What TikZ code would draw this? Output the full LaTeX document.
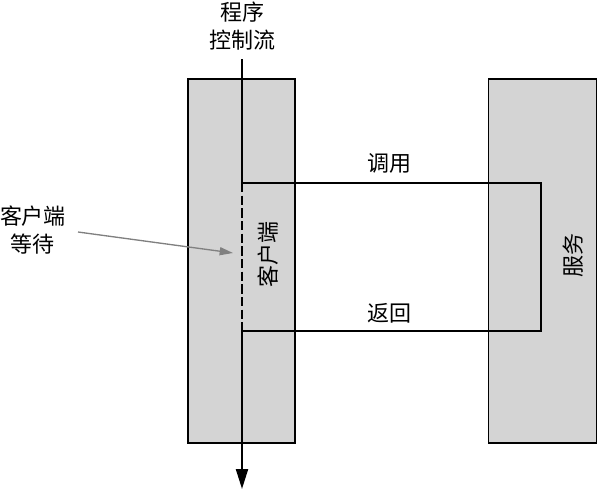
\documentclass[tikz,border=0pt]{standalone}
\usepackage{fontspec}
\setmainfont{Noto Sans CJK SC}
\usetikzlibrary{arrows.meta}
\definecolor{barfill}{RGB}{212,212,212}
\definecolor{pointer}{RGB}{128,128,128}
\begin{document}
\begin{tikzpicture}[x=0.75pt,y=-0.75pt,
  bar/.style={draw=black,line width=1.1pt,fill=barfill,inner sep=0pt,minimum width=#1*0.75pt,minimum height=364*0.75pt},
  lbl/.style={font=\fontsize{16.5}{20.5}\selectfont,inner sep=0pt,align=center},
  flow/.style={line width=1.6pt},
  link/.style={line width=1.1pt}]
\useasboundingbox (0,0) rectangle (597,490);
% bars
\node[bar=107] (client) at (241.5,261) {};
\node[bar=108] (server) at (542.5,261) {};
% labels
\node[lbl] (ctl) at (242,26) {程序\\控制流};
\node[lbl] (wait) at (33,230) {客户端\\等待};
\node[lbl] (call) at (389,163) {调用};
\node[lbl] (ret) at (389,313) {返回};
\node[lbl,rotate=90] (cname) at (268,254) {客户端};
\node[lbl,rotate=90] (sname) at (573,255) {服务};
% coordinates
\coordinate (fs) at (242,59);
\coordinate (f1) at (242,183);
\coordinate (f2) at (242,331);
\coordinate (fe) at (242,489);
\coordinate (r1) at (541,183);
\coordinate (r2) at (541,331);
\coordinate (ws) at (78,232);
\coordinate (we) at (233,253);
% control flow
\draw[flow] (fs) -- (f1);
\draw[flow,dash pattern=on 7pt off 2.5pt] (f1) -- (f2);
\draw[flow,-{Triangle[length=15pt,width=9pt]}] (f2) -- (fe);
% call/return path
\draw[link] (f1) -- (r1) -- (r2) -- (f2);
% waiting pointer
\draw[pointer,line width=1pt,-{Triangle[length=10pt,width=6pt]}] (ws) -- (we);
\end{tikzpicture}
\end{document}
